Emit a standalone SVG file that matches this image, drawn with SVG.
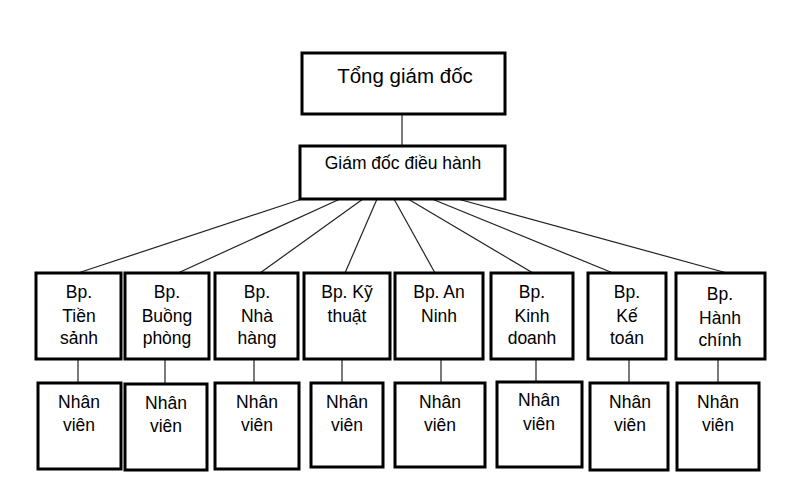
<svg xmlns="http://www.w3.org/2000/svg" width="799" height="499" viewBox="0 0 799 499">
<style>
.box{fill:#fff;stroke:#000;stroke-width:3}
.ln{stroke:#222;stroke-width:1.2;fill:none}
text{font-family:"Liberation Sans",Arial,sans-serif;fill:#000;text-anchor:middle;font-size:17.5px}
</style>
<rect width="799" height="499" fill="#fff"/>
<g id="connectors">
<line class="ln" x1="402" y1="114" x2="402" y2="146"/>
<line class="ln" x1="302" y1="199" x2="78" y2="273"/>
<line class="ln" x1="340" y1="199" x2="178" y2="273"/>
<line class="ln" x1="363" y1="199" x2="260" y2="273"/>
<line class="ln" x1="377" y1="199" x2="345" y2="273"/>
<line class="ln" x1="394" y1="199" x2="435" y2="273"/>
<line class="ln" x1="408" y1="199" x2="533" y2="273"/>
<line class="ln" x1="432" y1="199" x2="613" y2="273"/>
<line class="ln" x1="458" y1="199" x2="727" y2="273"/>
<line class="ln" x1="78" y1="359" x2="78" y2="383"/>
<line class="ln" x1="165" y1="359" x2="165" y2="384"/>
<line class="ln" x1="254" y1="359" x2="254" y2="383"/>
<line class="ln" x1="342" y1="359" x2="342" y2="383"/>
<line class="ln" x1="441" y1="359" x2="441" y2="383"/>
<line class="ln" x1="536" y1="359" x2="536" y2="382"/>
<line class="ln" x1="629" y1="359" x2="629" y2="383"/>
<line class="ln" x1="718" y1="359" x2="718" y2="383"/>
</g>
<g id="tong-giam-doc">
<rect class="box" x="302" y="53" width="203" height="61"/>
<text x="405" y="83" style="font-size:20.5px">Tổng giám đốc</text>
</g>
<g id="giam-doc-dieu-hanh">
<rect class="box" x="300" y="146" width="205" height="53"/>
<text x="403" y="169">Giám đốc điều hành</text>
</g>
<g id="bp-tien-sanh">
<rect class="box" x="36" y="273" width="85" height="86"/>
<text x="79" y="298">Bp.</text><text x="79" y="322">Tiền</text><text x="79" y="344">sảnh</text>
</g>
<g id="bp-buong-phong">
<rect class="box" x="125" y="273" width="84" height="86"/>
<text x="167" y="298">Bp.</text><text x="167" y="322">Buồng</text><text x="167" y="344">phòng</text>
</g>
<g id="bp-nha-hang">
<rect class="box" x="215" y="273" width="83" height="86"/>
<text x="257" y="298">Bp.</text><text x="257" y="322">Nhà</text><text x="257" y="344">hàng</text>
</g>
<g id="bp-ky-thuat">
<rect class="box" x="304" y="273" width="86" height="86"/>
<text x="347" y="298">Bp. Kỹ</text><text x="347" y="322">thuật</text>
</g>
<g id="bp-an-ninh">
<rect class="box" x="395" y="273" width="88" height="86"/>
<text x="439" y="298">Bp. An</text><text x="439" y="322">Ninh</text>
</g>
<g id="bp-kinh-doanh">
<rect class="box" x="491" y="273" width="82" height="86"/>
<text x="532" y="298">Bp.</text><text x="532" y="322">Kinh</text><text x="532" y="344">doanh</text>
</g>
<g id="bp-ke-toan">
<rect class="box" x="588" y="273" width="78" height="86"/>
<text x="627" y="298">Bp.</text><text x="627" y="322">Kế</text><text x="627" y="344">toán</text>
</g>
<g id="bp-hanh-chinh">
<rect class="box" x="676" y="273" width="89" height="86"/>
<text x="720" y="300">Bp.</text><text x="720" y="324">Hành</text><text x="720" y="346">chính</text>
</g>
<g id="nv-1"><rect class="box" x="38" y="383" width="83" height="86"/><text x="79" y="408">Nhân</text><text x="79" y="431">viên</text></g>
<g id="nv-2"><rect class="box" x="125" y="384" width="82" height="86"/><text x="166" y="409">Nhân</text><text x="166" y="432">viên</text></g>
<g id="nv-3"><rect class="box" x="215" y="383" width="84" height="86"/><text x="257" y="408">Nhân</text><text x="257" y="431">viên</text></g>
<g id="nv-4"><rect class="box" x="311" y="383" width="72" height="84"/><text x="347" y="408">Nhân</text><text x="347" y="431">viên</text></g>
<g id="nv-5"><rect class="box" x="395" y="383" width="90" height="84"/><text x="440" y="408">Nhân</text><text x="440" y="431">viên</text></g>
<g id="nv-6"><rect class="box" x="497" y="382" width="85" height="85"/><text x="539" y="406">Nhân</text><text x="539" y="430">viên</text></g>
<g id="nv-7"><rect class="box" x="590" y="383" width="78" height="87"/><text x="630" y="408">Nhân</text><text x="630" y="431">viên</text></g>
<g id="nv-8"><rect class="box" x="677" y="383" width="82" height="87"/><text x="718" y="408">Nhân</text><text x="718" y="431">viên</text></g>
</svg>
